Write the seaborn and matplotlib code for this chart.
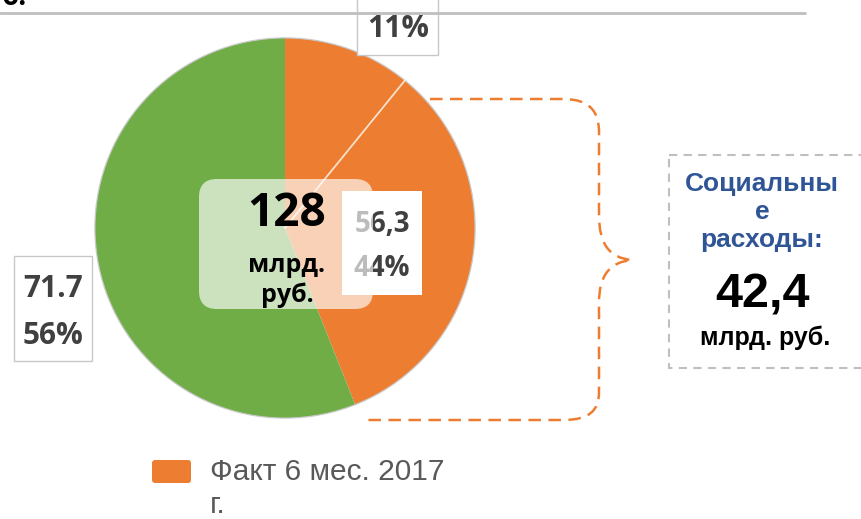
import numpy as np
import matplotlib.pyplot as plt
import seaborn as sns
from matplotlib.patches import FancyBboxPatch, Rectangle, PathPatch, Circle
from matplotlib.path import Path

# data (млрд. руб.)
slice_names = ['Прочие', 'Социальные расходы', 'Остальное']
slice_values = [13.9, 42.4, 71.7]
slice_colors = ['#ED7D31', '#ED7D31', '#70AD47']
total_value = 128
fact_value = '56,3'
fact_share = '44%'
other_value = '71.7'
other_share = '56%'
small_share = '11%'
social_value = '42,4'
legend_label = 'Факт 6 мес. 2017\nг.'

sns.set_theme(style='white')
plt.rcParams['font.family'] = ['Liberation Sans', 'DejaVu Sans']

W, H = 862, 519
fig = plt.figure(figsize=(W / 100, H / 100), dpi=100)
fig.patch.set_facecolor('white')

# pie axes: centre (285, 228) px, radius 192 px
cx, cy, r = 285, 228, 192
pax = fig.add_axes([(cx - r) / W, (H - cy - r) / H, 2 * r / W, 2 * r / H])
pax.pie(slice_values, colors=slice_colors, startangle=90, counterclock=False,
        radius=1, wedgeprops=dict(linewidth=0))
pax.add_patch(Circle((0, 0), 1, fill=False, edgecolor='#C9C9C9', lw=0.9))
# light divider between the two orange parts (from the data)
ang = np.deg2rad(90 - 360 * slice_values[0] / sum(slice_values))
pax.plot([0, np.cos(ang)], [0, np.sin(ang)], color='#FBE0CC', lw=1.3)
pax.set_xlim(-1.01, 1.01)
pax.set_ylim(-1.01, 1.01)
pax.set_aspect('equal')
pax.axis('off')

# overlay in pixel coordinates
ov = fig.add_axes([0, 0, 1, 1], zorder=5)
ov.set_xlim(0, W)
ov.set_ylim(H, 0)
ov.axis('off')
ov.patch.set_alpha(0)

calib = ['Open Sans', 'DejaVu Sans']
grey_txt = '#404040'

# top rule and cut title
ov.plot([0, 805], [12.5, 12.5], color='#BFBFBF', lw=2)
ov.text(2, 5, 'б.', fontsize=20, fontweight='bold', color='black', va='baseline',
        family=calib)

# 11% label
ov.add_patch(Rectangle((357, -5), 81, 60, facecolor='white', edgecolor='#C8C8C8', lw=1))
ov.text(398, 29, small_share, fontsize=22, fontweight='bold', color=grey_txt,
        ha='center', va='center', family=calib)

# 71.7 / 56% label
ov.add_patch(Rectangle((14, 256), 78, 105, facecolor='white', edgecolor='#C8C8C8', lw=1))
ov.text(53, 289, other_value, fontsize=21.5, fontweight='bold', color=grey_txt,
        ha='center', va='center', family=calib)
ov.text(53, 336, other_share, fontsize=21.5, fontweight='bold', color=grey_txt,
        ha='center', va='center', family=calib)

# 56,3 / 44% label (partly under the translucent box)
ov.add_patch(Rectangle((342, 191), 80, 104, facecolor='white', edgecolor='none', zorder=2))
ov.text(382, 224, fact_value, fontsize=20, fontweight='bold', color=grey_txt,
        ha='center', va='center', family=calib, zorder=3)
ov.text(382, 269, fact_share, fontsize=20, fontweight='bold', color=grey_txt,
        ha='center', va='center', family=calib, zorder=3)

# translucent centre box with total
ov.add_patch(FancyBboxPatch((199, 179), 174, 130,
                            boxstyle='round,pad=0,rounding_size=18',
                            facecolor='white', edgecolor='none', alpha=0.65, zorder=4))
ov.text(287, 214, str(total_value), fontsize=33, fontweight='bold', color='black',
        ha='center', va='center', family=calib, zorder=5)
ov.text(287, 266, 'млрд.', fontsize=18, fontweight='bold', color='black',
        ha='center', va='center', family=calib, zorder=5)
ov.text(287, 295, 'руб.', fontsize=18, fontweight='bold', color='black',
        ha='center', va='center', family=calib, zorder=5)

# orange dashed brace
verts = [(430, 99), (563, 99),
         (590, 99), (599, 112), (599, 132),
         (599, 215),
         (599, 245), (610, 258), (632, 260),
         (610, 262), (599, 275), (599, 303),
         (599, 392),
         (599, 410), (590, 420), (563, 420),
         (365, 420)]
codes = [Path.MOVETO, Path.LINETO,
         Path.CURVE4, Path.CURVE4, Path.CURVE4,
         Path.LINETO,
         Path.CURVE4, Path.CURVE4, Path.CURVE4,
         Path.CURVE4, Path.CURVE4, Path.CURVE4,
         Path.LINETO,
         Path.CURVE4, Path.CURVE4, Path.CURVE4,
         Path.LINETO]
ov.add_patch(PathPatch(Path(verts, codes), facecolor='none', edgecolor='#ED7D31',
                       lw=1.8, linestyle=(0, (5, 3))))

# social spending box
ov.add_patch(Rectangle((669, 155), 200, 213, facecolor='none', edgecolor='#BFBFBF',
                       lw=1.5, linestyle=(0, (4, 3))))
blue = '#2F5597'
ov.text(762, 184, 'Социальны', fontsize=19, fontweight='bold', color=blue,
        ha='center', va='center')
ov.text(762, 212, 'е', fontsize=19, fontweight='bold', color=blue,
        ha='center', va='center')
ov.text(762, 240, 'расходы:', fontsize=19, fontweight='bold', color=blue,
        ha='center', va='center')
ov.text(763, 295, social_value, fontsize=35, fontweight='bold', color='black',
        ha='center', va='center')
ov.text(765, 338, 'млрд. руб.', fontsize=18, fontweight='bold', color='black',
        ha='center', va='center')

# legend
ov.add_patch(FancyBboxPatch((152, 460), 39, 23, boxstyle='round,pad=0,rounding_size=3',
                            facecolor='#ED7D31', edgecolor='none'))
ov.text(210, 472, legend_label.split('\n')[0], fontsize=21.5, color='#595959',
        ha='left', va='center')
ov.text(210, 505, legend_label.split('\n')[1], fontsize=21.5, color='#595959',
        ha='left', va='center')

fig.savefig('out.png', dpi=100)
